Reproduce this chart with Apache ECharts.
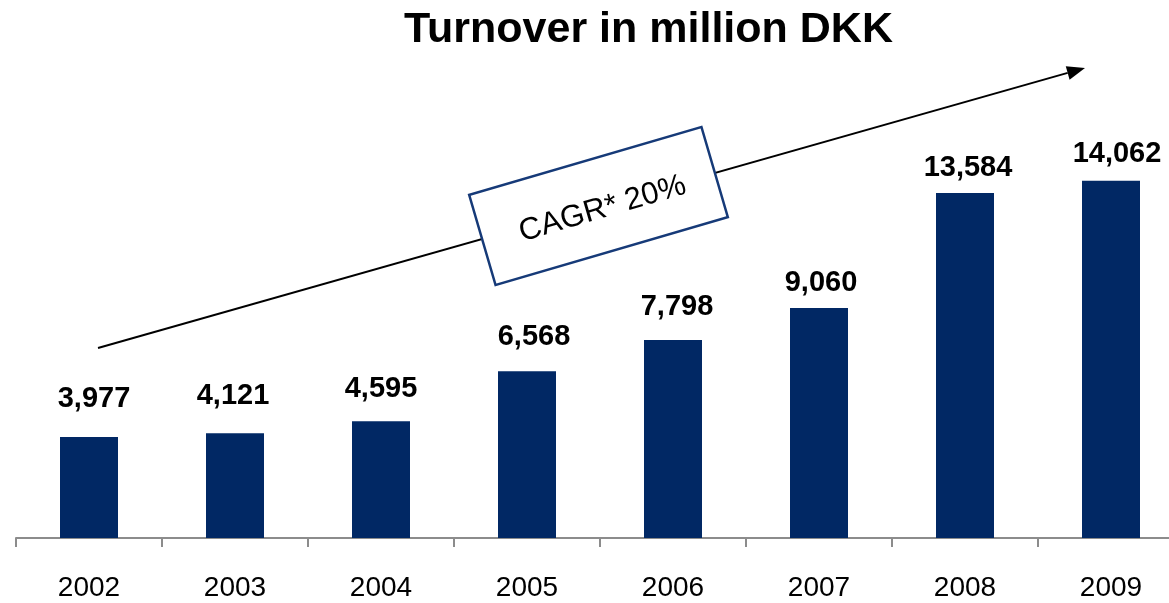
<!DOCTYPE html>
<html>
<head>
<meta charset="utf-8">
<script src="https://cdn.jsdelivr.net/npm/echarts@6/dist/echarts.min.js"></script>
<style>
html,body{margin:0;padding:0;background:#fff;overflow:hidden;}
#chart{width:1184px;height:603px;}
</style>
</head>
<body>
<div id="chart"></div>
<script>
const years = ['2002','2003','2004','2005','2006','2007','2008','2009'];
const turnover = [3977, 4121, 4595, 6568, 7798, 9060, 13584, 14062];
const titleText = 'Turnover in million DKK';
const cagrText = 'CAGR* 20%';

// label placement styling (pixels), separate from data
const labelGap = [23, 23, 18, 20, 18, 10, 10, 12];
const labelShiftX = [5, -2, 0, 7, 4, 2, 3, 6];

const FONT = '"Liberation Sans", Arial, sans-serif';
const chart = echarts.init(document.getElementById('chart'));

function fmt(v){ return String(v).replace(/\B(?=(\d{3})+(?!\d))/g, ','); }

// arrow geometry
const x1 = 98, y1 = 348, x2 = 1085, y2 = 68;
const dx = x2 - x1, dy = y2 - y1, L = Math.sqrt(dx*dx + dy*dy);
const ux = dx / L, uy = dy / L, nx = -uy, ny = ux;
const hl = 18, hw = 7;
const bx = x2 - hl*ux, by = y2 - hl*uy;

const barData = turnover.map((v, i) => ({
  value: v,
  label: { distance: labelGap[i], offset: [labelShiftX[i], 0] }
}));

chart.setOption({
  animation: false,
  title: {
    text: titleText,
    left: 399, top: 4,
    textStyle: { fontFamily: FONT, fontSize: 43, fontWeight: 'bold', color: '#000' }
  },
  grid: { left: 16, right: 0, top: 157, bottom: 65, containLabel: false },
  xAxis: {
    type: 'category',
    data: years,
    axisLine: { lineStyle: { color: '#8c8c8c', width: 2 } },
    axisTick: { show: true, length: 9, lineStyle: { color: '#8c8c8c', width: 2 } },
    axisLabel: { fontFamily: FONT, fontSize: 28, color: '#000', margin: 36 }
  },
  yAxis: { type: 'value', min: 0, max: 15000, show: false, splitLine: { show: false } },
  series: [{
    type: 'bar',
    data: barData,
    barWidth: 58,
    itemStyle: { color: '#012864' },
    label: {
      show: true, position: 'top', distance: 23,
      fontFamily: FONT, fontSize: 29, fontWeight: 'bold', color: '#000',
      formatter: p => fmt(p.value)
    }
  }],
  graphic: [
    { type: 'line', z: 10, shape: { x1: x1, y1: y1, x2: bx, y2: by }, style: { stroke: '#000', lineWidth: 2 } },
    { type: 'polygon', z: 10, shape: { points: [[x2, y2], [bx + hw*nx, by + hw*ny], [bx - hw*nx, by - hw*ny]] }, style: { fill: '#000' } },
    {
      type: 'group', x: 598.5, y: 206, rotation: 16.3 * Math.PI / 180, z: 20,
      children: [
        { type: 'rect', shape: { x: -121, y: -47, width: 242, height: 94 }, style: { fill: '#fff', stroke: '#163a78', lineWidth: 2.5 }, z: 20 },
        { type: 'text', x: 3, y: 4, z: 21, style: { text: cagrText, fontFamily: FONT, fontSize: 31, fill: '#000', align: 'center', verticalAlign: 'middle' } }
      ]
    }
  ]
});
</script>
</body>
</html>
